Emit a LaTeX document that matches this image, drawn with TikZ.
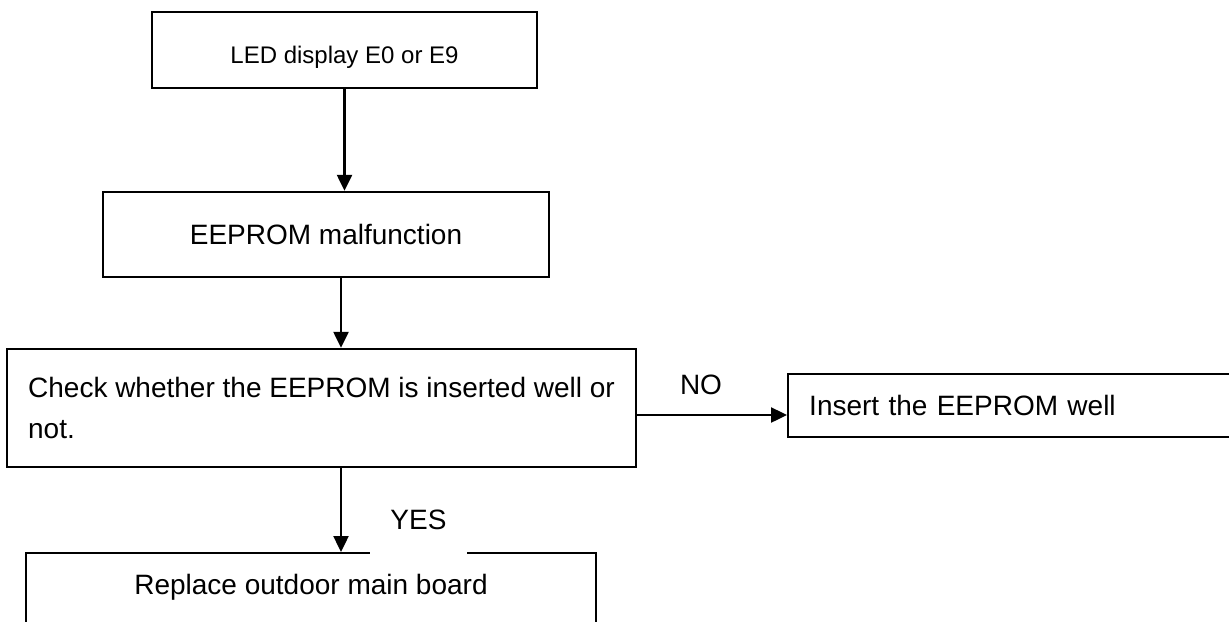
\documentclass[tikz,border=0pt]{standalone}
\usepackage{fontspec}
\setmainfont{Liberation Sans}
\usetikzlibrary{arrows.meta,calc}

\begin{document}
\begin{tikzpicture}[x=0.5pt, y=-0.5pt,
    box/.style={draw, line width=1.2pt, inner sep=0pt, font=\fontsize{14pt}{20.5pt}\selectfont},
    flow/.style={line width=1.2pt, -{Triangle[width=7.5pt,length=8pt]}},
    tag/.style={font=\fontsize{14pt}{17pt}\selectfont}]
  \path[use as bounding box, clip] (0,0) rectangle (1229,621);
  \coordinate (trunk) at (341,0);
  \coordinate (nolevel) at (0,415);
  \node[box, minimum width=192.5pt, minimum height=38pt, font=\fontsize{12pt}{14pt}\selectfont, text height=13pt, text depth=0pt] (led) at (344.5,50) {LED display E0 or E9};
  \node[box, minimum width=223pt, minimum height=42.5pt] (eep) at (326,234.5) {EEPROM malfunction};
  \node[box, align=left, minimum width=314.5pt, minimum height=59pt] (chk) at (321.5,408) {Check whether the EEPROM is inserted well or\\not.};
  \node[box, anchor=west, text width=235.5pt, inner xsep=10.5pt, align=left, minimum height=31.5pt] (ins) at (787,405.5) {Insert the EEPROM well};
  \node[box, anchor=north, minimum width=285pt, minimum height=55pt, text height=10pt, text depth=24pt] (rep) at (311,552) {Replace outdoor main board};
  \draw[flow] (led.south) -- (led.south |- eep.north);
  \draw[flow] (eep.south -| trunk) -- (chk.north -| trunk);
  \draw[flow] (chk.south -| trunk) -- (rep.north -| trunk);
  \draw[flow] (chk.east |- nolevel) -- (ins.west |- nolevel);
  \node[tag] (no) at (701,385) {NO};
  \node[tag, fill=white, anchor=base, minimum width=48.5pt, inner ysep=1pt, text depth=12pt] (yes) at (418.5,529) {YES};
\end{tikzpicture}
\end{document}
